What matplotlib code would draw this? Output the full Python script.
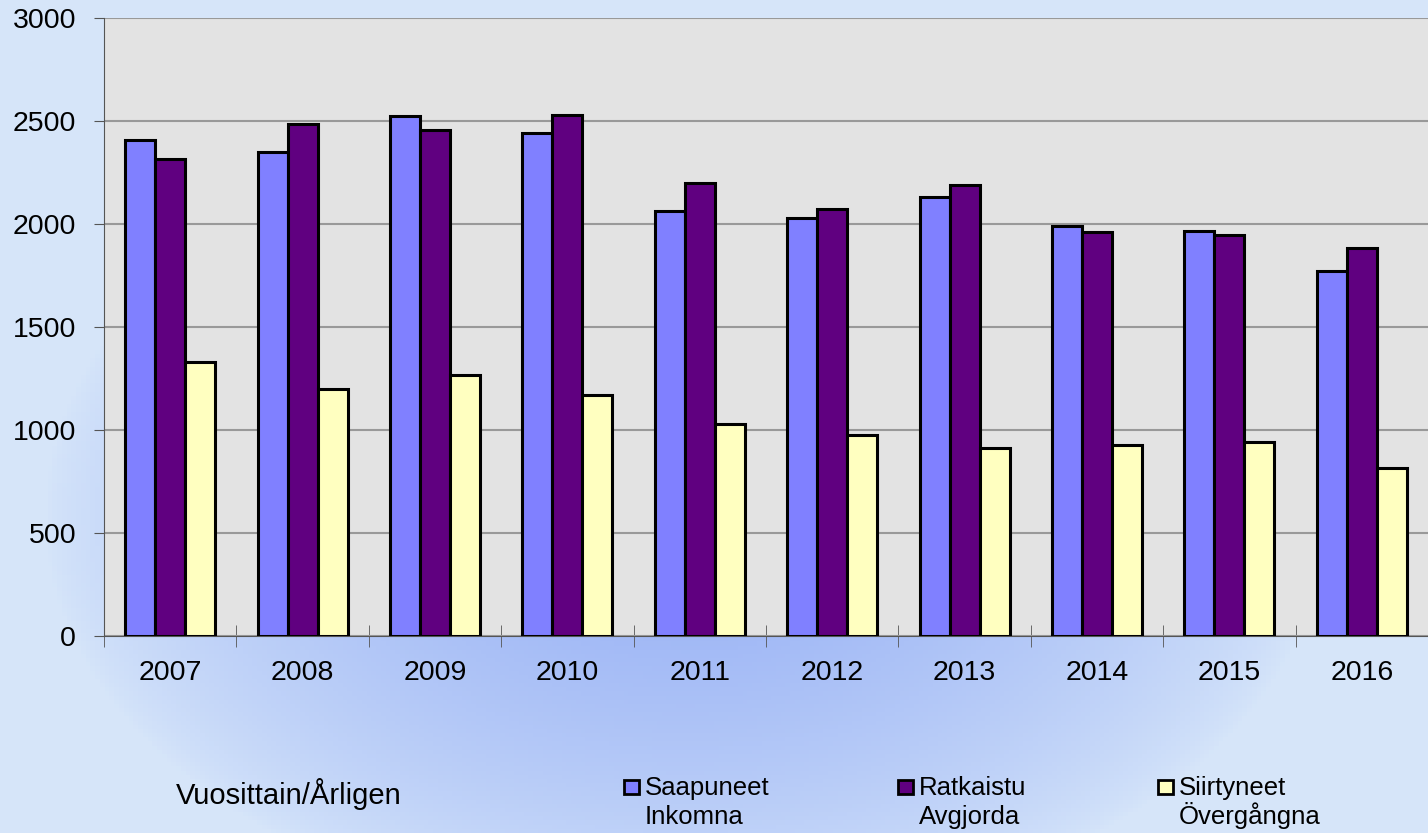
import numpy as np
import matplotlib
matplotlib.use('Agg')
import matplotlib.pyplot as plt
from matplotlib.patches import Rectangle

plt.rc('font', family=['Liberation Sans', 'DejaVu Sans'])

years = ['2007', '2008', '2009', '2010', '2011', '2012', '2013', '2014', '2015', '2016']
saapuneet = [2410, 2348, 2523, 2443, 2063, 2027, 2130, 1990, 1964, 1773]
ratkaistu = [2314, 2487, 2458, 2531, 2197, 2074, 2188, 1963, 1945, 1882]
siirtyneet = [1330, 1200, 1265, 1171, 1028, 977, 914, 927, 943, 815]
series_fi = ['Saapuneet', 'Ratkaistu', 'Siirtyneet']
series_sv = ['Inkomna', 'Avgjorda', 'Övergångna']
colors = ['#8080FF', '#600080', '#FFFFC0']

W, H = 1428., 833.
fig = plt.figure(figsize=(14.28, 8.33), dpi=100)

#background gradient (light edges, darker blue blob in the middle)
bg = fig.add_axes([0, 0, 1, 1], zorder=-10)
gx, gy = np.meshgrid(np.linspace(0, 1, 300), np.linspace(0, 1, 200))
r = np.sqrt(((gx - 0.48) / 0.45)**2 + ((gy - 0.62) / 0.5)**2)
t = np.clip(1 - r, 0, 1)**0.7
c_out = np.array([0.84, 0.90, 0.98])
c_in = np.array([0.58, 0.68, 0.96])
img = c_out[None, None, :] * (1 - t[..., None]) + c_in[None, None, :] * t[..., None]
bg.imshow(img, aspect='auto', extent=[0, 1, 0, 1], origin='upper')
bg.axis('off')

ax = fig.add_axes([104/W, 197/H, 1324/W, 618/H])
ax.set_facecolor('#E3E3E3')
x = np.arange(len(years))
w = 0.227
for k, (vals, col) in enumerate(zip([saapuneet, ratkaistu, siirtyneet], colors)):
    ax.bar(x + (k - 1)*w, vals, width=w, color=col, edgecolor='black', linewidth=2.2, zorder=3)

ax.set_xlim(-0.5, len(years) - 0.5)
ax.set_ylim(0, 3000)
ax.set_yticks(np.arange(0, 3001, 500))
ax.yaxis.grid(True, color='#999999', linewidth=1.5, zorder=0)
ax.set_axisbelow(True)
for s in ['top', 'right']:
    ax.spines[s].set_visible(False)
ax.spines['left'].set_color('#555555')
ax.spines['bottom'].set_color('#555555')
ax.set_xticks(x)
ax.set_xticklabels(years, fontsize=20.5)
ax.tick_params(axis='x', length=0, pad=17)
ax.set_xticks(np.arange(-0.5, len(years), 1), minor=True)
ax.tick_params(axis='x', which='minor', length=16, direction='inout', color='#555555')
ax.tick_params(axis='y', length=7, direction='out', labelsize=20.5, color='#555555', pad=13)

fig.text(176/W, 1 - 804/H, 'Vuosittain/Årligen', fontsize=21, va='baseline', ha='left')
sq_x = [624, 898, 1158]
for sx, fi, sv, col in zip(sq_x, series_fi, series_sv, colors):
    fig.patches.append(Rectangle((sx/W, 1 - 794/H), 15/W, 14/H, transform=fig.transFigure,
                                 facecolor=col, edgecolor='black', linewidth=2))
    fig.text((sx + 21)/W, 1 - 795/H, fi, fontsize=18.5, va='baseline', ha='left')
    fig.text((sx + 21)/W, 1 - 824/H, sv, fontsize=18.5, va='baseline', ha='left')

fig.savefig('out.png', dpi=100)
